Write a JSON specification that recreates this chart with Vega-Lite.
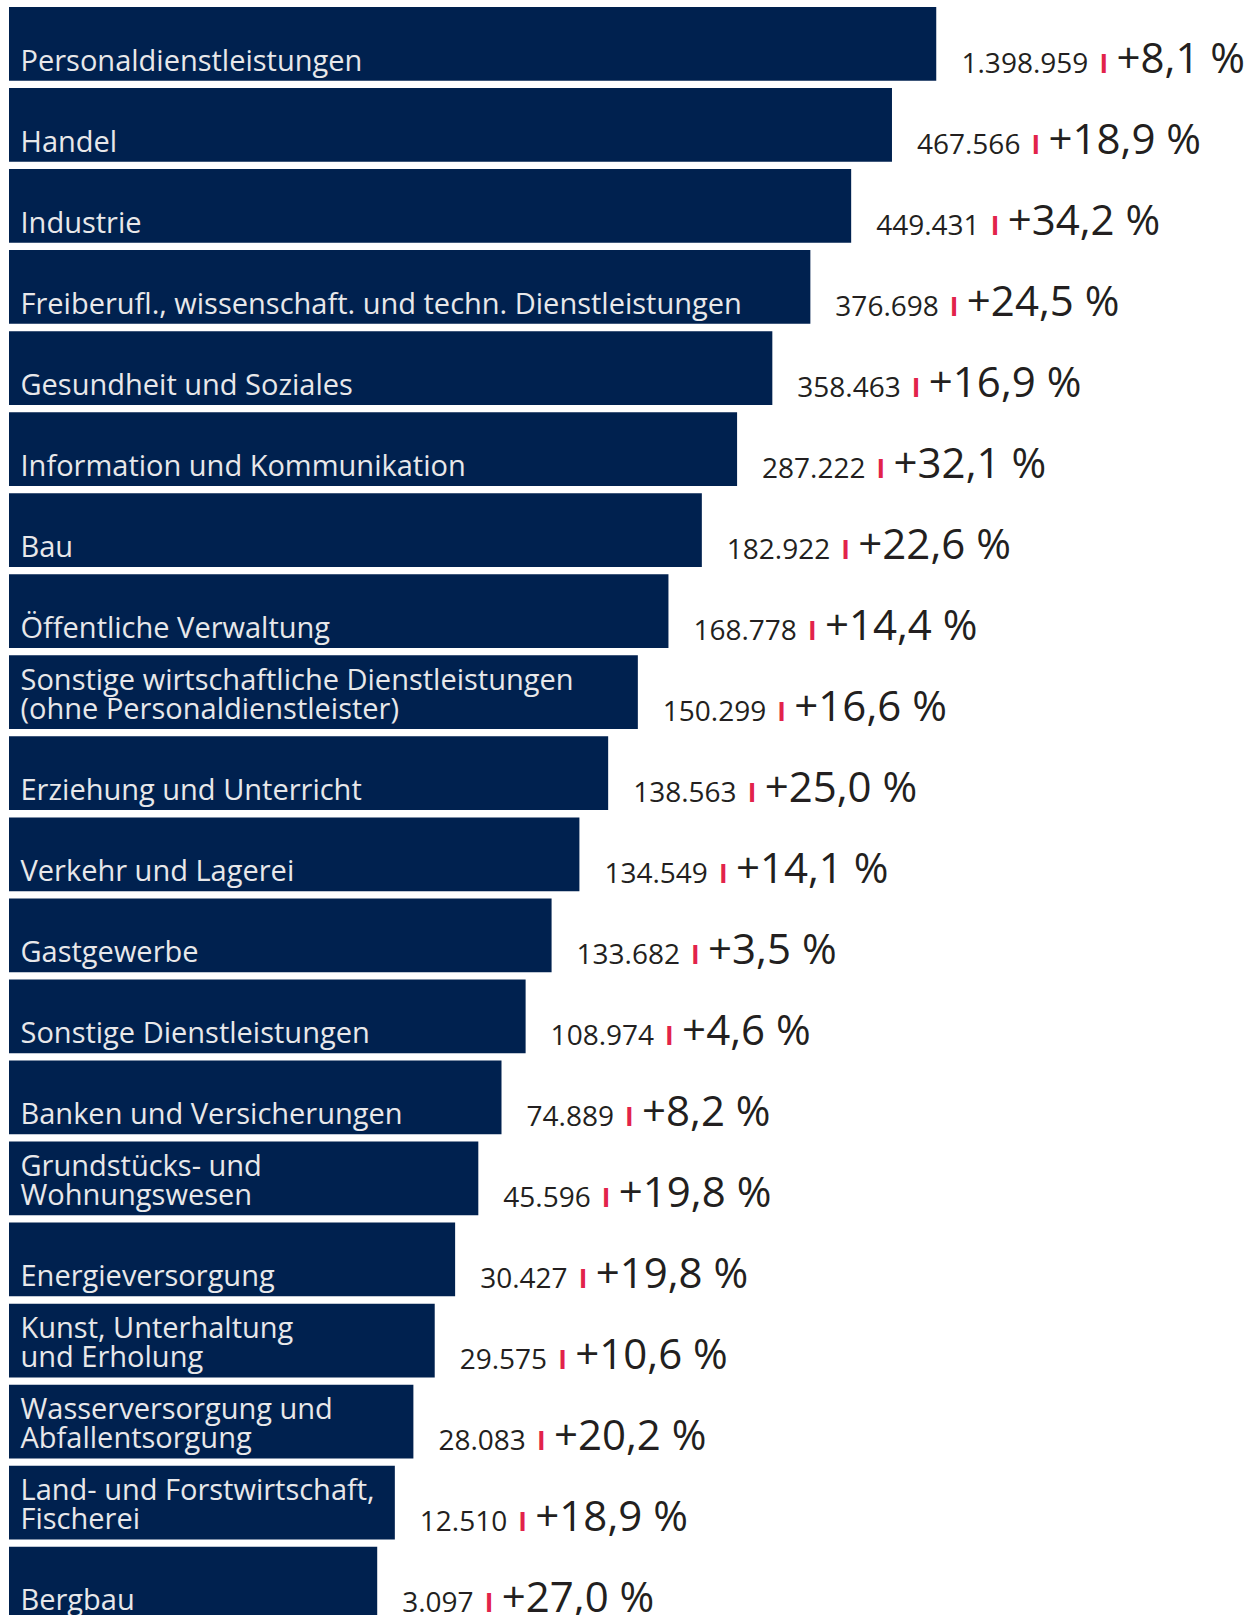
{
  "$schema": "https://vega.github.io/schema/vega-lite/v6.json",
  "width": 927.5,
  "height": 1615,
  "autosize": {"type": "none"},
  "padding": {"left": 9, "top": 0, "right": 321.5, "bottom": 0},
  "background": "white",
  "config": {
    "view": {"stroke": null},
    "font": "Open Sans",
    "locale": {
      "number": {"decimal": ",", "thousands": ".", "grouping": [3], "currency": ["", " €"], "percent": " %"}
    }
  },
  "data": {
    "values": [
      {"branche": "Personaldienstleistungen", "wert": 1398959, "veraenderung": 0.081, "balken": 100},
      {"branche": "Handel", "wert": 467566, "veraenderung": 0.189, "balken": 95.2},
      {"branche": "Industrie", "wert": 449431, "veraenderung": 0.342, "balken": 90.8},
      {"branche": "Freiberufl., wissenschaft. und techn. Dienstleistungen", "wert": 376698, "veraenderung": 0.245, "balken": 86.4},
      {"branche": "Gesundheit und Soziales", "wert": 358463, "veraenderung": 0.169, "balken": 82.3},
      {"branche": "Information und Kommunikation", "wert": 287222, "veraenderung": 0.321, "balken": 78.5},
      {"branche": "Bau", "wert": 182922, "veraenderung": 0.226, "balken": 74.7},
      {"branche": "Öffentliche Verwaltung", "wert": 168778, "veraenderung": 0.144, "balken": 71.1},
      {"branche": "Sonstige wirtschaftliche Dienstleistungen\n(ohne Personaldienstleister)", "wert": 150299, "veraenderung": 0.166, "balken": 67.8},
      {"branche": "Erziehung und Unterricht", "wert": 138563, "veraenderung": 0.25, "balken": 64.6},
      {"branche": "Verkehr und Lagerei", "wert": 134549, "veraenderung": 0.141, "balken": 61.5},
      {"branche": "Gastgewerbe", "wert": 133682, "veraenderung": 0.035, "balken": 58.5},
      {"branche": "Sonstige Dienstleistungen", "wert": 108974, "veraenderung": 0.046, "balken": 55.7},
      {"branche": "Banken und Versicherungen", "wert": 74889, "veraenderung": 0.082, "balken": 53.1},
      {"branche": "Grundstücks- und\nWohnungswesen", "wert": 45596, "veraenderung": 0.198, "balken": 50.6},
      {"branche": "Energieversorgung", "wert": 30427, "veraenderung": 0.198, "balken": 48.1},
      {"branche": "Kunst, Unterhaltung\nund Erholung", "wert": 29575, "veraenderung": 0.106, "balken": 45.9},
      {"branche": "Wasserversorgung und\nAbfallentsorgung", "wert": 28083, "veraenderung": 0.202, "balken": 43.6},
      {"branche": "Land- und Forstwirtschaft,\nFischerei", "wert": 12510, "veraenderung": 0.189, "balken": 41.6},
      {"branche": "Bergbau", "wert": 3097, "veraenderung": 0.27, "balken": 39.7}
    ]
  },
  "encoding": {
    "y": {
      "field": "branche",
      "type": "nominal",
      "sort": null,
      "axis": null,
      "scale": {"range": [0, 1627.5], "paddingInner": 0.09, "paddingOuter": 0.0864}
    }
  },
  "layer": [
    {
      "mark": {"type": "bar", "color": "#00214f", "clip": true},
      "encoding": {
        "x": {"field": "balken", "type": "quantitative", "axis": null, "scale": {"domain": [0, 100], "nice": false, "zero": true}}
      }
    },
    {
      "mark": {"type": "text", "align": "left", "baseline": "bottom", "dx": 11.5, "fontSize": 29, "lineHeight": 29, "lineBreak": "\n", "color": "#e8e8ea",
        "dy": {"expr": "indexof(datum.branche, '\\n') >= 0 ? -33 : -4"}},
      "encoding": {
        "x": {"datum": 0, "type": "quantitative"},
        "y": {"field": "branche", "type": "nominal", "sort": null, "bandPosition": 1},
        "text": {"field": "branche"}
      }
    },
    {
      "mark": {"type": "text", "align": "left", "baseline": "alphabetic", "dx": 25, "dy": -8, "fontSize": 28, "color": "#231f20"},
      "encoding": {
        "x": {"field": "balken", "type": "quantitative"},
        "y": {"field": "branche", "type": "nominal", "sort": null, "bandPosition": 1},
        "text": {"field": "wert", "type": "quantitative", "format": ",d"}
      }
    },
    {
      "mark": {"type": "text", "align": "left", "baseline": "alphabetic", "dy": -8, "fontSize": 26, "fontWeight": "bold", "color": "#e2234a",
        "dx": {"expr": "25 + length(toString(datum.wert))*16 + floor((length(toString(datum.wert))-1)/3)*7.5 + 11"}},
      "encoding": {
        "x": {"field": "balken", "type": "quantitative"},
        "y": {"field": "branche", "type": "nominal", "sort": null, "bandPosition": 1},
        "text": {"value": "I"}
      }
    },
    {
      "mark": {"type": "text", "align": "left", "baseline": "alphabetic", "dy": -8, "fontSize": 42, "color": "#231f20",
        "dx": {"expr": "25 + length(toString(datum.wert))*16 + floor((length(toString(datum.wert))-1)/3)*7.5 + 28"}},
      "encoding": {
        "x": {"field": "balken", "type": "quantitative"},
        "y": {"field": "branche", "type": "nominal", "sort": null, "bandPosition": 1},
        "text": {"field": "veraenderung", "type": "quantitative", "format": "+.1%"}
      }
    }
  ]
}
